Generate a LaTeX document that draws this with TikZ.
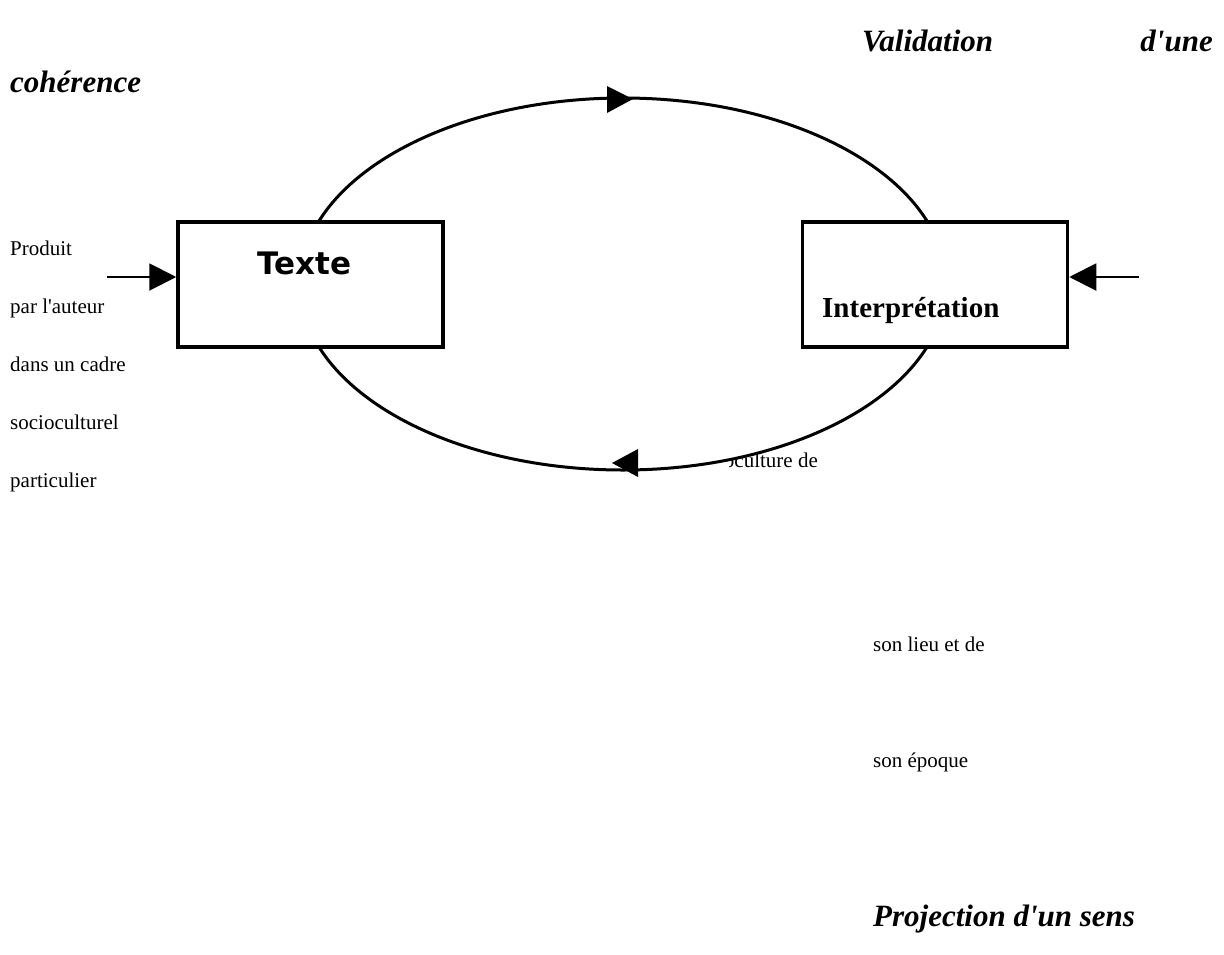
\documentclass[tikz,border=0pt]{standalone}
\usepackage{fontspec}
\setmainfont{Liberation Serif}
\newfontfamily\boxsans{DejaVu Sans}
\usetikzlibrary{arrows.meta}
\tikzset{
  smalltxt/.style={font=\fontsize{21}{21}\selectfont, inner sep=0pt, anchor=base west},
  titletxt/.style={font=\fontsize{31}{31}\selectfont\bfseries\itshape, inner sep=0pt},
  boxnode/.style={draw, line width=3.5pt, fill=white, minimum width=265pt, minimum height=125pt, inner sep=0pt},
  headtri/.style={fill=black, draw=none},
  inarrow/.style={line width=2pt, -{Triangle[length=27pt,width=27pt]}},
}
\begin{document}
\begin{tikzpicture}[x=1pt,y=-1pt]
\useasboundingbox (0,0) rectangle (1224,954);
% titles
\node[titletxt, anchor=base west] (val) at (862,51) {Validation};
\node[titletxt, anchor=base east] (dune) at (1213,51) {d\textquotesingle une};
\node[titletxt, anchor=base west] (coh) at (10,92) {cohérence};
\node[titletxt, anchor=base west] (proj) at (873,926) {Projection d\textquotesingle un sens};
% left text
\node[smalltxt] (l1) at (10,255) {Produit};
\node[smalltxt] (l2) at (10,313) {par l\textquotesingle auteur};
\node[smalltxt] (l3) at (10,371) {dans un cadre};
\node[smalltxt] (l4) at (10,429) {socioculturel};
\node[smalltxt] (l5) at (10,487) {particulier};
% right text
\begin{scope}
\clip (729,430) rectangle (830,490);
\node[smalltxt, anchor=base east] (r1) at (818,467) {socioculture de};
\end{scope}
\node[smalltxt] (r2) at (873,651) {son lieu et de};
\node[smalltxt] (r3) at (873,767) {son époque};
% cycle
\draw[line width=3pt, fill=white] (623,284) ellipse [x radius=323, y radius=186];
\fill[headtri] (633,99) -- (607,86) -- (607,113) -- cycle;
\fill[headtri] (612,463) -- (638,449) -- (638,477) -- cycle;
% boxes
\node[boxnode] (texte) at (310.5,284.5) {};
\node[boxnode] (interp) at (935,284.5) {};
\node[font=\boxsans\bfseries\fontsize{31}{31}\selectfont, inner sep=0pt, anchor=base] (textelbl) at (304.5,274) {Texte};
\node[font=\bfseries\fontsize{29}{29}\selectfont, inner sep=0pt, anchor=base west] (interplbl) at (822,317) {Interprétation};
% incoming arrows
\coordinate (lin) at (107,277);
\coordinate (rin) at (1139,277);
\draw[inarrow] (lin) -- (lin -| texte.west);
\draw[inarrow] (rin) -- (rin -| interp.east);
\end{tikzpicture}
\end{document}
